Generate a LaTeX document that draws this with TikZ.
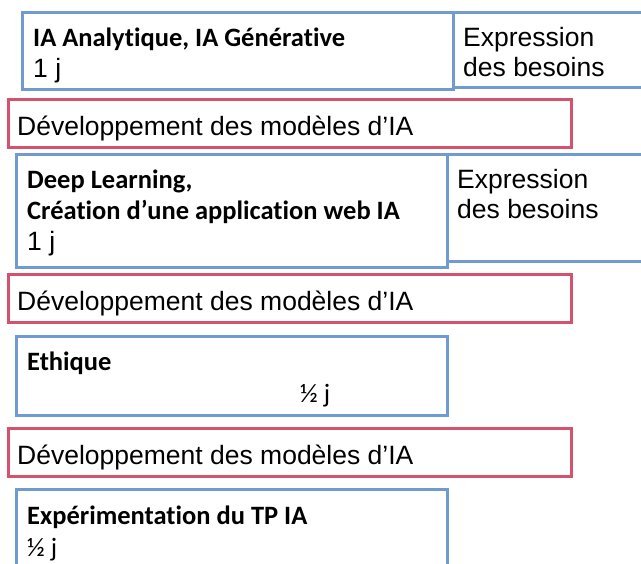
\documentclass[tikz,border=0pt]{standalone}
\usepackage{fontspec}
\setmainfont{Liberation Sans}
\newfontfamily\calibri[Ligatures=NoCommon]{Carlito}
\usetikzlibrary{positioning}
\definecolor{cadrebleu}{RGB}{112,155,209}
\definecolor{cadrerouge}{RGB}{213,82,108}

\begin{document}
\begin{tikzpicture}[
x=1pt, y=-1pt,
bloc/.style={draw=cadrebleu, line width=3pt, inner sep=0pt, outer sep=0pt,
  anchor=north west, minimum width=431pt},
besoin/.style={draw=cadrebleu, line width=3pt, inner sep=0pt, outer sep=0pt,
  anchor=north west, minimum width=220pt},
dev/.style={draw=cadrerouge, line width=3pt, inner sep=0pt, outer sep=0pt,
  anchor=north west, minimum width=563pt, minimum height=48pt},
gras/.style={font=\calibri\bfseries\fontsize{26.5}{31}\selectfont, inner sep=0pt, anchor=base west},
cal/.style={font=\calibri\fontsize{26.5}{31}\selectfont, inner sep=0pt, anchor=base west},
txt/.style={font=\fontsize{26.5}{31}\selectfont, inner sep=0pt, anchor=base west}
]
\useasboundingbox (0,0) rectangle (641,564);

% cadres
\node[bloc, minimum height=77pt] (ana) at (22,13) {};
\node[besoin, minimum height=75pt] (anab) at (453,13) {};
\node[dev] (dev1) at (8,100) {};
\node[bloc, minimum height=113pt] (deep) at (16,155) {};
\node[besoin, minimum height=107pt] (deepb) at (447,155) {};
\node[dev] (dev2) at (8,275) {};
\node[bloc, minimum height=79pt] (eth) at (16,337) {};
\node[dev] (dev3) at (8,429) {};
\node[bloc, minimum height=120pt] (exp) at (16,490) {};

% textes
\node[gras] (ana1) at ([xshift=11pt,yshift=-34pt]ana.north west) {IA Analytique, IA Générative};
\node[txt] (ana2) at ([yshift=-31pt]ana1.base west) {1 j};
\node[txt] (anab1) at ([xshift=10pt,yshift=-34pt]anab.north west) {Expression};
\node[txt] (anab2) at ([yshift=-30pt]anab1.base west) {des besoins};
\node[txt] (dev1t) at ([xshift=9pt,yshift=-36pt]dev1.north west) {Développement des modèles d’IA};

\node[gras] (deep1) at ([xshift=11pt,yshift=-34pt]deep.north west) {Deep Learning,};
\node[gras] (deep2) at ([yshift=-31pt]deep1.base west) {Création d’une application web IA};
\node[txt] (deep3) at ([yshift=-31pt]deep2.base west) {1 j};
\node[txt] (deepb1) at ([xshift=10pt,yshift=-34pt]deepb.north west) {Expression};
\node[txt] (deepb2) at ([yshift=-30pt]deepb1.base west) {des besoins};
\node[txt] (dev2t) at ([xshift=9pt,yshift=-36pt]dev2.north west) {Développement des modèles d’IA};

\node[gras] (eth1) at ([xshift=11pt,yshift=-34pt]eth.north west) {Ethique};
\node[cal] (eth2) at ([xshift=284pt,yshift=-66pt]eth.north west) {½ j};
\node[txt] (dev3t) at ([xshift=9pt,yshift=-36pt]dev3.north west) {Développement des modèles d’IA};

\node[gras] (exp1) at ([xshift=11pt,yshift=-35pt]exp.north west) {Expérimentation du TP IA};
\node[cal] (exp2) at ([yshift=-31pt]exp1.base west) {½ j};
\end{tikzpicture}
\end{document}
